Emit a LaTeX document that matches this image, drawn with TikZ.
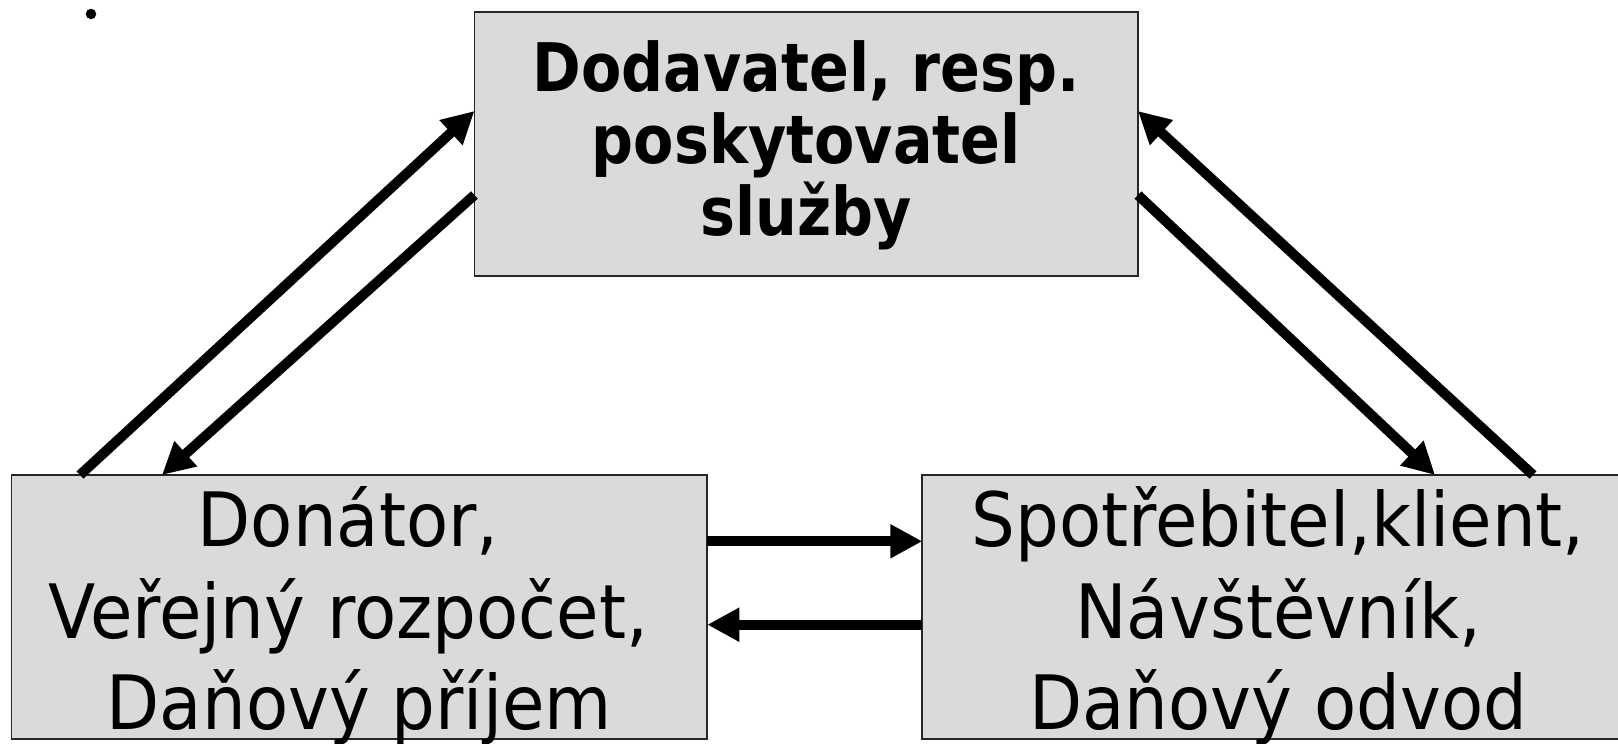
\documentclass[tikz,border=0pt]{standalone}
\usepackage{fontspec}
\usetikzlibrary{arrows.meta,calc}
\newfontfamily\regfont[FakeStretch=0.92]{DejaVu Sans}
\newfontfamily\boldfnt[FakeStretch=0.876]{DejaVu Sans Bold}
\definecolor{boxgray}{RGB}{218,218,218}
\newcommand{\upstrut}[1]{\rule{0pt}{#1}}
\newcommand{\downstrut}[1]{\rule[-#1]{0pt}{0pt}}
\begin{document}
\begin{tikzpicture}[x=1pt,y=-1pt,
  box/.style={rectangle, draw=black!85, line width=1.8pt, fill=boxgray,
    inner sep=0pt, outer sep=0pt, align=center},
  boldbox/.style={box, font={\boldfnt\fontsize{67}{72}\selectfont}},
  plainbox/.style={box, font={\regfont\fontsize{75}{91.5}\selectfont}},
  flow/.style={draw=black, line width=10pt, line cap=butt,
    -{Triangle[length=32pt,width=32pt]}}]
\useasboundingbox (0,0) rectangle (1618,744);
\clip (0,0) rectangle (1618,744);
\node[circle, fill=black, inner sep=0pt, minimum size=10.5pt] (dot) at (91,14) {};
\node[boldbox, minimum width=663.5pt, minimum height=264pt] (T) at (806.2,144)
  {\upstrut{60pt}Dodavatel, resp.\\poskytovatel\\\smash{služby}\downstrut{22pt}};
\node[plainbox, minimum width=695.8pt, minimum height=264pt] (L) at (359.4,607)
  {\upstrut{71pt}Donátor,\kern0.3em\\Veřejný rozpočet,\kern0.3em\\\smash{Daňový příjem}\downstrut{8.4pt}};
\node[plainbox, minimum width=711.7pt, minimum height=264pt] (R) at (1278.2,607)
  {\upstrut{71pt}Spotřebitel,klient,\\Návštěvník,\\\smash{Daňový odvod}\downstrut{8.4pt}};
% diagonal connectors
\draw[flow] ($(L.north west)+(68.5,0)$) -- ($(T.north west)+(0,99)$);
\draw[flow] ($(T.north west)+(0,183)$) -- ($(L.north west)+(150.5,0)$);
\draw[flow] ($(R.north west)+(610.7,0)$) -- ($(T.north east)+(0,99)$);
\draw[flow] ($(T.north east)+(0,183)$) -- ($(R.north west)+(512.7,0)$);
% horizontal connectors
\draw[flow] ($(L.north east)+(0,66.3)$) -- ($(R.north west)+(0,66.3)$);
\draw[flow] ($(R.north west)+(0,149.7)$) -- ($(L.north east)+(0,149.7)$);
\end{tikzpicture}
\end{document}
